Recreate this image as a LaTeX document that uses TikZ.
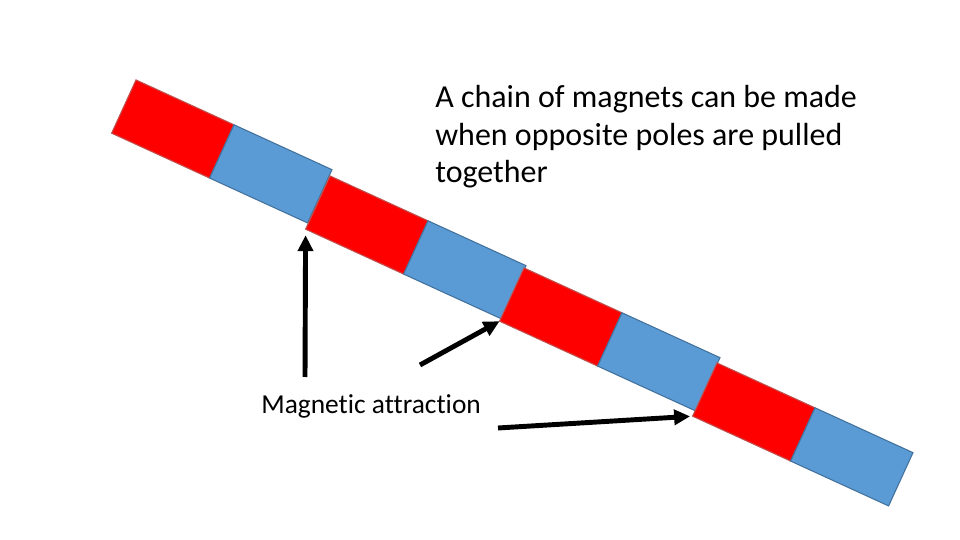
\documentclass[tikz,border=0pt]{standalone}
\usepackage{fontspec}
\setmainfont{Carlito}[Ligatures=NoCommon]
\usetikzlibrary{arrows.meta}
\definecolor{magred}{HTML}{FF0000}
\definecolor{magblue}{HTML}{5B9BD5}
\definecolor{magredline}{HTML}{C0504D}
\definecolor{magblueline}{HTML}{41719C}
\begin{document}
\begin{tikzpicture}[x=0.02cm, y=-0.02cm,
    pole/.style={rectangle, rotate=-24.6, minimum width=2.156cm, minimum height=1.172cm, inner sep=0pt, outer sep=0pt, line width=0.6pt},
    npole/.style={pole, fill=magred, draw=magredline},
    spole/.style={pole, fill=magblue, draw=magblueline},
    arr/.style={line width=2.8pt, -{Triangle[length=0.32cm, width=0.3cm]}}]
\useasboundingbox[fill=white] (0,0) rectangle (960,540);
    \foreach \i/\x/\y in {1/172.8/129, 2/366.8/225, 3/560.8/317, 4/753.8/412}
    {
        \node[npole] (n\i) at (\x,\y) {};
        \node[spole, anchor=west] (s\i) at (n\i.east) {};
    }
\node[anchor=base west, inner sep=0pt, align=left, font=\fontsize{18.2}{21.6}\selectfont] (chain) at (435,183) {A chain of magnets can be made\\when opposite poles are pulled\\together};
\node[anchor=base west, inner sep=0pt, font=\fontsize{15.6}{18}\selectfont] (attr) at (261,414) {Magnetic attraction};
\coordinate (a1) at (305,377);
\coordinate (a2) at (420,365);
\coordinate (a3) at (498,428);
\draw[arr, shorten >=0.12cm] (a1) -- (n2.south west);
\draw[arr] (a2) -- (n3.south west);
\draw[arr, shorten >=0.05cm] (a3) -- (n4.south west);
\end{tikzpicture}
\end{document}
